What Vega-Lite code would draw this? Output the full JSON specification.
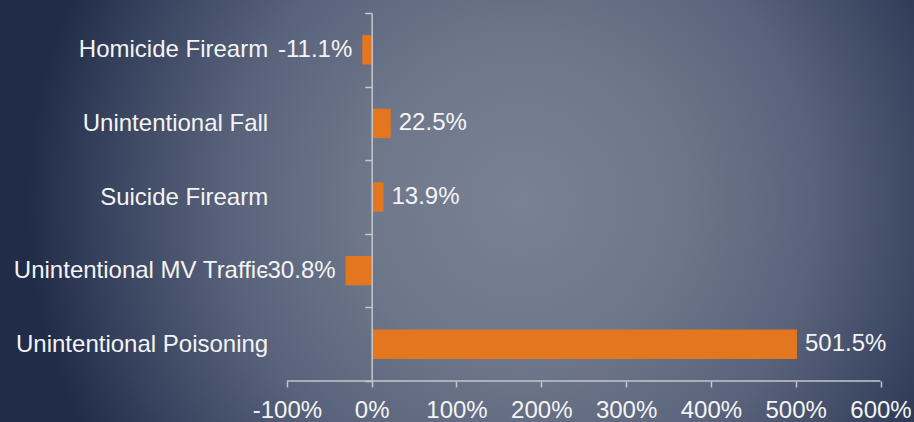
{
  "$schema": "https://vega.github.io/schema/vega-lite/v6.json",
  "width": 914,
  "height": 422,
  "autosize": {"type": "none"},
  "padding": 0,
  "background": "#26314e",
  "view": {
    "stroke": null,
    "fill": {
      "gradient": "radial",
      "x1": 0.57, "y1": 0.49, "r1": 0,
      "x2": 0.57, "y2": 0.49, "r2": 0.54,
      "stops": [
        {"offset": 0, "color": "#788195"},
        {"offset": 0.3, "color": "#6f788b"},
        {"offset": 0.6, "color": "#58627b"},
        {"offset": 0.85, "color": "#37425e"},
        {"offset": 1, "color": "#212c49"}
      ]
    }
  },
  "config": {
    "locale": {
      "number": {"decimal": ".", "thousands": ",", "grouping": [3], "currency": ["$", ""], "minus": "-"}
    },
    "text": {"font": "Liberation Sans"}
  },
  "data": {
    "values": [
      {"cause": "Homicide Firearm", "value": -0.111},
      {"cause": "Unintentional Fall", "value": 0.225},
      {"cause": "Suicide Firearm", "value": 0.139},
      {"cause": "Unintentional MV Traffic", "value": -0.308},
      {"cause": "Unintentional Poisoning", "value": 5.015}
    ]
  },
  "encoding": {
    "y": {
      "field": "cause",
      "type": "nominal",
      "sort": null,
      "scale": {"range": [13, 381], "paddingInner": 0, "paddingOuter": 0},
      "axis": {
        "title": null,
        "orient": "left",
        "offset": -371.7,
        "domainColor": "#c3c7ce",
        "domainWidth": 1.5,
        "tickBand": "extent",
        "tickColor": "#c3c7ce",
        "tickSize": 7,
        "tickWidth": 1.5,
        "labelPadding": 97,
        "labelFont": "Liberation Sans",
        "labelFontSize": 24,
        "labelColor": "#f4f4f4",
        "labelLimit": 0,
        "labelOverlap": false,
        "zindex": 1
      }
    }
  },
  "layer": [
    {
      "mark": {"type": "bar", "color": "#e3761f", "height": {"band": 0.4}},
      "encoding": {
        "x": {
          "field": "value",
          "type": "quantitative",
          "scale": {"domain": [-4.383, 6.395], "nice": false, "zero": false},
          "axis": {
            "title": null,
            "orient": "bottom",
            "offset": -41,
            "values": [-1, 0, 1, 2, 3, 4, 5, 6],
            "format": ".0%",
            "domain": false,
            "grid": false,
            "tickColor": "#c3c7ce",
            "tickSize": 6,
            "tickWidth": 1.5,
            "labelPadding": 11,
            "labelFont": "Liberation Sans",
            "labelFontSize": 24,
            "labelColor": "#f4f4f4",
            "labelFlush": false,
            "labelOverlap": false
          }
        },
        "x2": {"datum": 0}
      }
    },
    {
      "transform": [{"filter": "datum.cause == 'Unintentional Poisoning'"}],
      "mark": {"type": "rule", "color": "#c3c7ce", "strokeWidth": 1.5, "yOffset": 36.8},
      "encoding": {
        "x": {"datum": -1},
        "x2": {"datum": 6}
      }
    },
    {
      "transform": [{"filter": "datum.value >= 0"}],
      "mark": {"type": "text", "align": "left", "baseline": "middle", "dx": 8, "fontSize": 24, "font": "Liberation Sans", "color": "#f4f4f4"},
      "encoding": {
        "x": {"field": "value", "type": "quantitative"},
        "text": {"field": "value", "type": "quantitative", "format": ".1%"}
      }
    },
    {
      "transform": [{"filter": "datum.value < 0"}],
      "mark": {"type": "text", "align": "right", "baseline": "middle", "dx": -10, "fontSize": 24, "font": "Liberation Sans", "color": "#f4f4f4"},
      "encoding": {
        "x": {"field": "value", "type": "quantitative"},
        "text": {"field": "value", "type": "quantitative", "format": ".1%"}
      }
    }
  ]
}
